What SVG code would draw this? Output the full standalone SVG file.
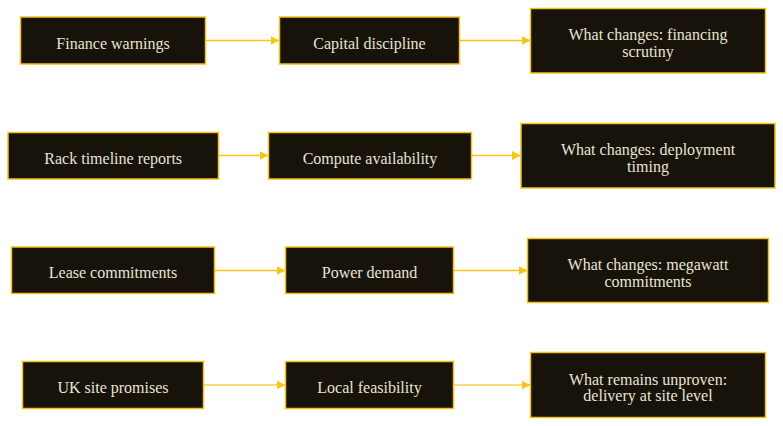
<svg xmlns="http://www.w3.org/2000/svg" width="783" height="426" viewBox="0 0 783 426">
<style>
.box{fill:#17130b;stroke:#f2c21b;stroke-width:1.5}
.t{font-size:16px;fill:#e9e3d2;text-anchor:middle}
.c{stroke:#f5c518;stroke-width:1.4;fill:none;marker-end:url(#ah)}
</style>
<defs>
<marker id="ah" markerUnits="userSpaceOnUse" markerWidth="10" markerHeight="10" refX="9" refY="4.5" orient="auto">
<path d="M0,0 L9,4.5 L0,9 z" fill="#f5c518"/>
</marker>
</defs>
<rect width="783" height="426" fill="#ffffff"/>
<g id="connectors">
<line class="c" x1="206" y1="40.5" x2="279.5" y2="40.5"/>
<line class="c" x1="460" y1="40.5" x2="530.5" y2="40.5"/>
<line class="c" x1="219" y1="155.5" x2="268.5" y2="155.5"/>
<line class="c" x1="472" y1="155.5" x2="521" y2="155.5"/>
<line class="c" x1="215" y1="270.5" x2="285.5" y2="270.5"/>
<line class="c" x1="454" y1="270.5" x2="527.5" y2="270.5"/>
<line class="c" x1="204" y1="385" x2="285.5" y2="385" style="stroke:#f7d04a"/>
<line class="c" x1="454" y1="385" x2="530.5" y2="385" style="stroke:#f7d04a"/>
</g>
<g font-family="Liberation Serif, Tinos, DejaVu Serif, serif">
<g id="finance-warnings"><rect class="box" x="20.5" y="17" width="185" height="47"/><text class="t" x="113" y="48.5">Finance warnings</text></g>
<g id="capital-discipline"><rect class="box" x="279.5" y="17" width="180" height="47"/><text class="t" x="369.5" y="48.5">Capital discipline</text></g>
<g id="financing-scrutiny"><rect class="box" x="530.5" y="8.5" width="235" height="64.5"/><text class="t" x="648" y="40.2">What changes: financing</text><text class="t" x="648" y="57">scrutiny</text></g>
<g id="rack-timeline"><rect class="box" x="8" y="132.5" width="210.5" height="46.5"/><text class="t" x="113.2" y="163.7">Rack timeline reports</text></g>
<g id="compute-availability"><rect class="box" x="268.5" y="132.5" width="203" height="46.5"/><text class="t" x="370" y="163.7">Compute availability</text></g>
<g id="deployment-timing"><rect class="box" x="521" y="123.5" width="254" height="64.5"/><text class="t" x="648" y="155.2">What changes: deployment</text><text class="t" x="648" y="172">timing</text></g>
<g id="lease-commitments"><rect class="box" x="11.5" y="247" width="203" height="46.5"/><text class="t" x="113" y="278.3">Lease commitments</text></g>
<g id="power-demand"><rect class="box" x="285.5" y="247" width="168" height="46.5"/><text class="t" x="369.5" y="278.3">Power demand</text></g>
<g id="megawatt-commitments"><rect class="box" x="527.5" y="238.5" width="241" height="64"/><text class="t" x="648" y="270">What changes: megawatt</text><text class="t" x="648" y="286.8">commitments</text></g>
<g id="uk-site-promises"><rect class="box" x="22.5" y="361.5" width="181" height="47"/><text class="t" x="113" y="393">UK site promises</text></g>
<g id="local-feasibility"><rect class="box" x="285.5" y="361.5" width="168" height="47"/><text class="t" x="369.5" y="393">Local feasibility</text></g>
<g id="delivery-site-level"><rect class="box" x="530.5" y="352.5" width="235" height="65"/><text class="t" x="648" y="384.5">What remains unproven:</text><text class="t" x="648" y="401.3">delivery at site level</text></g>
</g>
</svg>
